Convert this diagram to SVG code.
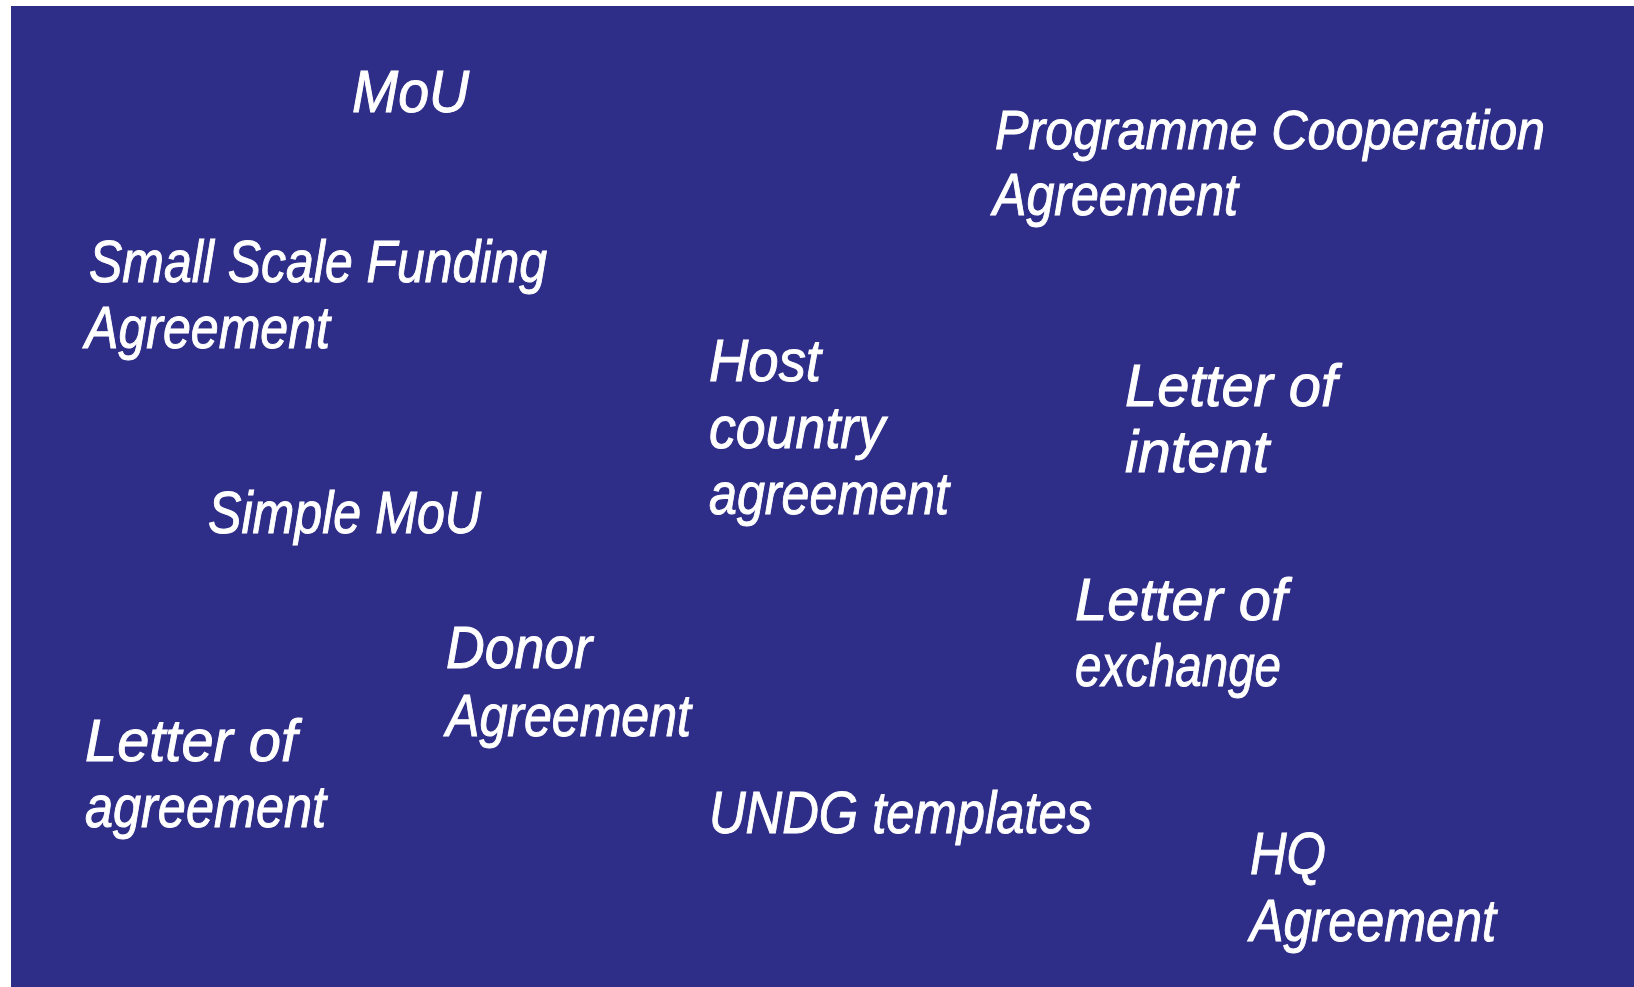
<svg xmlns="http://www.w3.org/2000/svg" width="1634" height="987" viewBox="0 0 1634 987">
<style>
.bg{fill:#2E2D87}
.t{font-family:"Liberation Sans","DejaVu Sans",sans-serif;font-style:italic;font-size:60px;fill:#FFFFFF;stroke:#FFFFFF;stroke-width:1}
.s{font-size:55px}
</style>
<rect x="0" y="0" width="1634" height="987" fill="#FFFFFF"/>
<rect class="bg" x="11" y="6" width="1623" height="981"/>
<g id="mou"><text class="t" x="352" y="112" textLength="117" lengthAdjust="spacingAndGlyphs">MoU</text></g>
<g id="programme-cooperation-agreement">
<text class="t s" x="995" y="149" textLength="550" lengthAdjust="spacingAndGlyphs">Programme Cooperation</text>
<text class="t" x="993" y="215" textLength="245" lengthAdjust="spacingAndGlyphs">Agreement</text>
</g>
<g id="small-scale-funding-agreement">
<text class="t" x="89" y="282" textLength="458" lengthAdjust="spacingAndGlyphs">Small Scale Funding</text>
<text class="t" x="85" y="348" textLength="245" lengthAdjust="spacingAndGlyphs">Agreement</text>
</g>
<g id="host-country-agreement">
<text class="t" x="709" y="381" textLength="112" lengthAdjust="spacingAndGlyphs">Host</text>
<text class="t" x="709" y="448" textLength="176" lengthAdjust="spacingAndGlyphs">country</text>
<text class="t" x="709" y="514" textLength="240" lengthAdjust="spacingAndGlyphs">agreement</text>
</g>
<g id="letter-of-intent">
<text class="t" x="1125" y="406" textLength="212" lengthAdjust="spacingAndGlyphs">Letter of</text>
<text class="t" x="1125" y="472" textLength="144" lengthAdjust="spacingAndGlyphs">intent</text>
</g>
<g id="simple-mou"><text class="t" x="208" y="533" textLength="273" lengthAdjust="spacingAndGlyphs">Simple MoU</text></g>
<g id="letter-of-exchange">
<text class="t" x="1075" y="620" textLength="212" lengthAdjust="spacingAndGlyphs">Letter of</text>
<text class="t" x="1075" y="686" textLength="206" lengthAdjust="spacingAndGlyphs">exchange</text>
</g>
<g id="donor-agreement">
<text class="t" x="446" y="668" textLength="146" lengthAdjust="spacingAndGlyphs">Donor</text>
<text class="t" x="446" y="736" textLength="245" lengthAdjust="spacingAndGlyphs">Agreement</text>
</g>
<g id="letter-of-agreement">
<text class="t" x="85" y="761" textLength="212" lengthAdjust="spacingAndGlyphs">Letter of</text>
<text class="t" x="85" y="827" textLength="241" lengthAdjust="spacingAndGlyphs">agreement</text>
</g>
<g id="undg-templates"><text class="t" x="709" y="833" textLength="383" lengthAdjust="spacingAndGlyphs">UNDG templates</text></g>
<g id="hq-agreement">
<text class="t" x="1250" y="874" textLength="76" lengthAdjust="spacingAndGlyphs">HQ</text>
<text class="t" x="1250" y="941" textLength="246" lengthAdjust="spacingAndGlyphs">Agreement</text>
</g>
<g id="connectors"/>
</svg>
